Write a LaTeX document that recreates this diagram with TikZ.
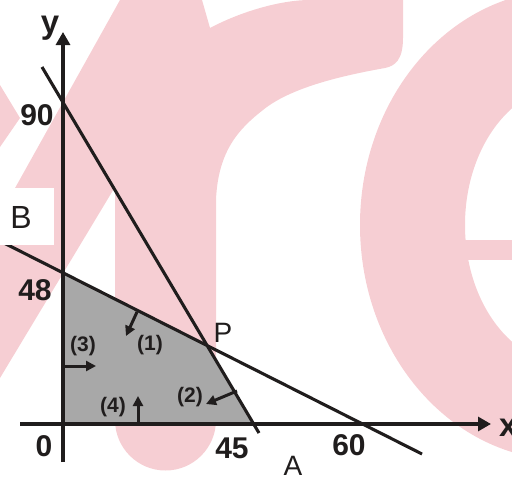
\documentclass[tikz,border=0pt]{standalone}
\usepackage{fontspec}
\setmainfont{Liberation Sans}
\usetikzlibrary{arrows.meta}
\definecolor{wm}{RGB}{246,206,211}
\definecolor{ink}{RGB}{32,29,29}
\definecolor{regiongray}{RGB}{168,168,168}
\tikzset{
  num/.style={font=\fontsize{30}{30}\selectfont\bfseries, inner sep=0pt, anchor=base, text=ink},
  lab/.style={font=\fontsize{30}{30}\selectfont, inner sep=0pt, anchor=base, text=ink},
  cnum/.style={font=\fontsize{21}{21}\selectfont\bfseries, inner sep=0pt, text=ink},
  axis/.style={draw=ink, line width=3.1pt, -{Triangle[length=13pt,width=14pt]}},
  bound/.style={draw=ink, line width=3.1pt},
  dirarrow/.style={draw=ink, line width=3pt, -{Triangle[length=10pt,width=10pt]}}
}
\begin{document}
\begin{tikzpicture}[x=1pt,y=-1pt]
\useasboundingbox (0,0) rectangle (512,477);
\clip (0,0) rectangle (512,477);
% watermark
\fill[wm] (0,85) -- (20,118) -- (0,147) -- cycle;
\fill[wm] (0,215) -- (120,0) -- (202,0) -- (210,28)
  .. controls (240,12) and (280,0) .. (310,0) -- (403,0) -- (403,38)
  .. controls (403,60) and (395,66) .. (385,68)
  .. controls (340,76) and (290,88) .. (263,110)
  .. controls (240,128) and (218,150) .. (216,200)
  -- (216,420) arc (0:180:50.5) -- (115,187) -- (0,378) -- cycle;
\fill[wm, even odd rule] (565,225) ellipse [x radius=205pt, y radius=235pt]
  (570,225) ellipse [x radius=105pt, y radius=140pt];
\fill[wm] (455,240) rectangle (512,260);
% coordinates
\coordinate (O) at (63,424);
\coordinate (ybot) at (63,462);
\coordinate (ytop) at (63,32);
\coordinate (xleft) at (20,424);
\coordinate (xright) at (491,424);
\coordinate (L1a) at (42,67);
\coordinate (L1b) at (259,433);
\coordinate (L2a) at (0,241);
\coordinate (L2b) at (422,454);
\coordinate (P) at (208,346);
\coordinate (y48) at (63,273);
\coordinate (x45) at (254,424);
% feasible region
\fill[regiongray] (y48) -- (P) -- (x45) -- (O) -- cycle;
% constraint lines
\draw[bound] (L1a) -- (L1b);
\draw[bound] (L2a) -- (L2b);
% axes
\draw[axis] (ybot) -- (ytop);
\draw[axis] (xleft) -- (xright);
% B box
\node[fill=white, inner sep=0pt, minimum width=54pt, minimum height=57pt, anchor=north west] (boxB) at (0,188) {};
\node[lab, font=\fontsize{32}{32}\selectfont] (B) at (21,228) {B};
% labels
\node[num, font=\fontsize{33}{33}\selectfont\bfseries] (ylab) at (50,33) {y};
\node[num, anchor=base west, font=\fontsize{33}{33}\selectfont\bfseries] (xlab) at (499,436) {x};
\node[num] (n90) at (37,125) {90};
\node[num] (n48) at (35,300) {48};
\node[num] (n0) at (44,456) {0};
\node[num] (n45) at (232,458) {45};
\node[num] (n60) at (349,455) {60};
\node[lab, font=\fontsize{28}{28}\selectfont] (Plab) at (223,342) {P};
\node[lab, font=\fontsize{28}{28}\selectfont] (Alab) at (293,475) {A};
\node[cnum] (c1) at (150,345) {(1)};
\node[cnum] (c2) at (190,397) {(2)};
\node[cnum] (c3) at (83,346) {(3)};
\node[cnum] (c4) at (113,407) {(4)};
% direction arrows
\coordinate (a1s) at (137,312);
\coordinate (a1e) at (126,336);
\coordinate (a2s) at (237,391);
\coordinate (a2e) at (206,404);
\coordinate (a3s) at (63,366);
\coordinate (a3e) at (96,366);
\coordinate (a4s) at (138,424);
\coordinate (a4e) at (138,396);
\draw[dirarrow] (a1s) -- (a1e);
\draw[dirarrow] (a2s) -- (a2e);
\draw[dirarrow] (a3s) -- (a3e);
\draw[dirarrow] (a4s) -- (a4e);
\end{tikzpicture}
\end{document}
